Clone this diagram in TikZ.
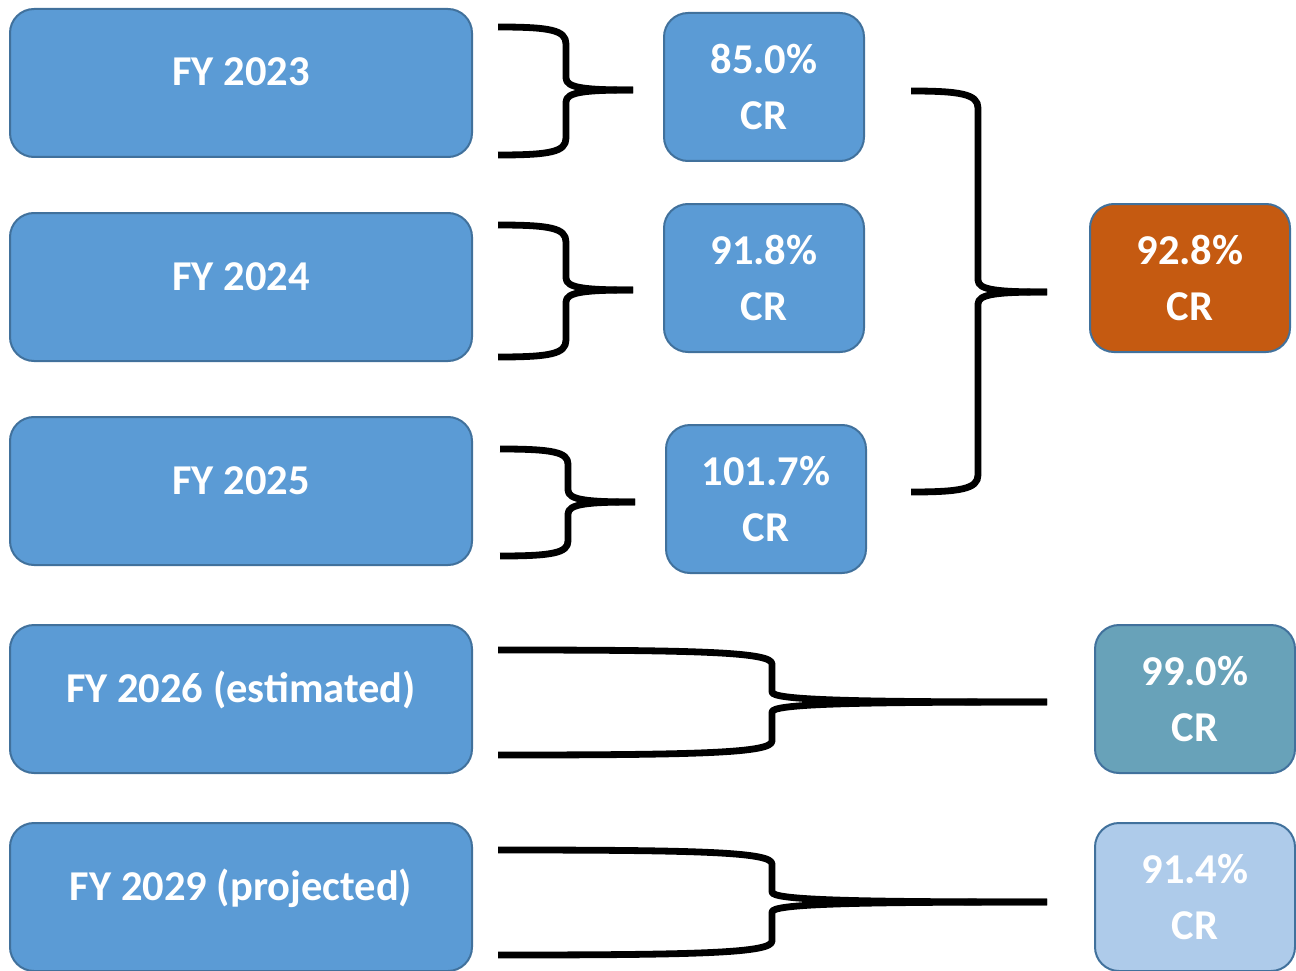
\documentclass[tikz,border=0pt]{standalone}
\usepackage{fontspec}
\setmainfont{Carlito}
\definecolor{boxblue}{HTML}{5B9BD5}
\definecolor{edgeblue}{HTML}{41719C}
\definecolor{boxorange}{HTML}{C55A11}
\definecolor{boxteal}{HTML}{68A2B9}
\definecolor{boxlight}{HTML}{AECBEA}
\begin{document}
\begin{tikzpicture}[x=1pt,y=-1pt,
  base/.style={draw=edgeblue, line width=2pt, rounded corners=24pt, text=white,
    font=\fontsize{42.5}{56}\selectfont\bfseries, align=center, inner sep=0pt},
  yearbox/.style={base, fill=boxblue, minimum width=462pt, minimum height=148pt,
    text height=28pt, text depth=22pt},
  crbox/.style={base, minimum width=200pt, minimum height=148pt},
  brace/.style={line width=6.8pt, line join=round}
]
\useasboundingbox (0,0) rectangle (1296,971);

% left year boxes
\node[yearbox] (y23) at (241,83) {FY 2023};
\node[yearbox] (y24) at (241,287) {FY 2024};
\node[yearbox] (y25) at (241,491) {FY 2025};
\node[yearbox] (y26) at (241,699) {FY 2026 (estimated)};
\node[yearbox] (y29) at (241,897) {FY 2029 (projected)};

% middle boxes
\node[crbox, fill=boxblue] (c23) at (764,87) {85.0\%\\CR};
\node[crbox, fill=boxblue] (c24) at (764,278) {91.8\%\\CR};
\node[crbox, fill=boxblue] (c25) at (766,499) {101.7\%\\CR};

% right boxes
\node[crbox, fill=boxorange] (c3y) at (1190,278) {92.8\%\\CR};
\node[crbox, fill=boxteal] (c26) at (1195,699) {99.0\%\\CR};
\node[crbox, fill=boxlight] (c29) at (1195,897) {91.4\%\\CR};

% brace coordinates
\coordinate (b1t) at (498,27);  \coordinate (b1m) at (633,90);  \coordinate (b1b) at (498,155);
\coordinate (b2t) at (498,225); \coordinate (b2m) at (633,290); \coordinate (b2b) at (498,357);
\coordinate (b3t) at (500,449); \coordinate (b3m) at (635,502); \coordinate (b3b) at (500,556);
\coordinate (b4t) at (911,91);  \coordinate (b4m) at (1047,292); \coordinate (b4b) at (911,492);
\coordinate (b5t) at (498,650); \coordinate (b5m) at (1047,702); \coordinate (b5b) at (498,755);
\coordinate (b6t) at (498,850); \coordinate (b6m) at (1047,902); \coordinate (b6b) at (498,955);

% small braces
\draw[brace] (b1t) .. controls (550,27) and (566,30) .. (566,44) -- (566,78)
  .. controls (566,88) and (585,90) .. (b1m);
\draw[brace] (b1b) .. controls (550,155) and (566,152) .. (566,138) -- (566,102)
  .. controls (566,92) and (585,90) .. (b1m);

\draw[brace] (b2t) .. controls (550,225) and (566,228) .. (566,242) -- (566,278)
  .. controls (566,288) and (585,290) .. (b2m);
\draw[brace] (b2b) .. controls (550,357) and (566,354) .. (566,340) -- (566,302)
  .. controls (566,292) and (585,290) .. (b2m);

\draw[brace] (b3t) .. controls (552,449) and (568,452) .. (568,464) -- (568,490)
  .. controls (568,500) and (587,502) .. (b3m);
\draw[brace] (b3b) .. controls (552,556) and (568,553) .. (568,541) -- (568,514)
  .. controls (568,504) and (587,502) .. (b3m);

% big brace
\draw[brace] (b4t) .. controls (960,91) and (978,94) .. (978,108) -- (978,280)
  .. controls (978,290) and (997,292) .. (b4m);
\draw[brace] (b4b) .. controls (960,492) and (978,489) .. (978,475) -- (978,304)
  .. controls (978,294) and (997,292) .. (b4m);

% long braces
\draw[brace] (b5t) .. controls (700,650) and (772,652) .. (772,664) -- (772,692)
  .. controls (772,700) and (850,702) .. (b5m);
\draw[brace] (b5b) .. controls (700,755) and (772,753) .. (772,741) -- (772,712)
  .. controls (772,704) and (850,702) .. (b5m);

\draw[brace] (b6t) .. controls (700,850) and (772,852) .. (772,864) -- (772,892)
  .. controls (772,900) and (850,902) .. (b6m);
\draw[brace] (b6b) .. controls (700,955) and (772,953) .. (772,941) -- (772,912)
  .. controls (772,904) and (850,902) .. (b6m);
\end{tikzpicture}
\end{document}
